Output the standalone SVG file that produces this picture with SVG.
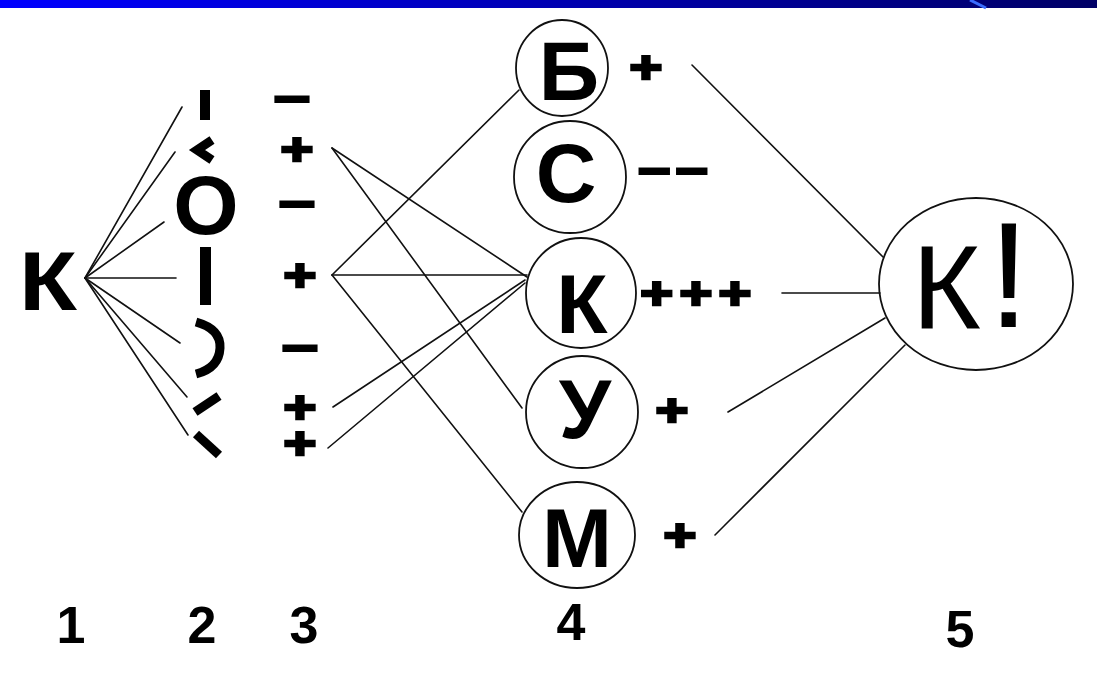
<svg xmlns="http://www.w3.org/2000/svg" width="1097" height="682" viewBox="0 0 1097 682">
<defs>
<linearGradient id="bar" x1="0" y1="0" x2="1" y2="0">
<stop offset="0" stop-color="#0000FF"/>
<stop offset="1" stop-color="#000066"/>
</linearGradient>
<style>
.ln{stroke:#111;stroke-width:1.6;fill:none;stroke-linecap:round}
.ring{stroke:#111;stroke-width:1.8;fill:none}
.b{font-family:"Liberation Sans",Arial,sans-serif;font-weight:bold;fill:#000}
.big{font-size:84px;text-anchor:middle}
.sg{font-size:45px;text-anchor:middle;stroke:#000;stroke-width:2.6}
.num{font-size:52px;text-anchor:middle}
.frag{stroke:#000;stroke-width:9;fill:none}
</style>
</defs>
<rect x="0" y="0" width="1097" height="682" fill="#fff"/>
<rect x="0" y="0" width="1097" height="8" fill="url(#bar)"/>
<line x1="970" y1="0" x2="986" y2="8" stroke="#3a6cff" stroke-width="3"/>

<g id="connectors">
<line class="ln" x1="85" y1="278" x2="182" y2="107"/>
<line class="ln" x1="85" y1="278" x2="175" y2="152"/>
<line class="ln" x1="85" y1="278" x2="164" y2="222"/>
<line class="ln" x1="85" y1="278" x2="176" y2="278"/>
<line class="ln" x1="85" y1="278" x2="180" y2="343"/>
<line class="ln" x1="85" y1="278" x2="187" y2="397"/>
<line class="ln" x1="85" y1="278" x2="188" y2="435"/>
<line class="ln" x1="332" y1="148" x2="527" y2="277"/>
<line class="ln" x1="332" y1="148" x2="522" y2="408"/>
<line class="ln" x1="332" y1="275" x2="519" y2="90"/>
<line class="ln" x1="332" y1="275" x2="527" y2="275"/>
<line class="ln" x1="332" y1="275" x2="522" y2="512"/>
<line class="ln" x1="333" y1="407" x2="525" y2="280"/>
<line class="ln" x1="328" y1="448" x2="525" y2="283"/>
<line class="ln" x1="692" y1="65" x2="883" y2="257"/>
<line class="ln" x1="782" y1="293" x2="880" y2="293"/>
<line class="ln" x1="728" y1="412" x2="885" y2="318"/>
<line class="ln" x1="715" y1="535" x2="905" y2="345"/>
</g>

<g id="node-K">
<text class="b" transform="translate(19,310) scale(1.13,1)" x="0" y="0" font-size="84">К</text>
</g>

<g id="column-2">
<rect x="200" y="90" width="10" height="30" fill="#000"/>
<path class="frag" d="M212,140 L197,150 L212,160" stroke-width="8"/>
<text class="b big" x="206" y="234">O</text>
<rect x="200" y="247" width="11" height="58" fill="#000"/>
<path class="frag" d="M196,322 Q221,329 220,348 Q219,368 196,374"/>
<line class="frag" x1="195" y1="412" x2="219" y2="396" stroke-width="8"/>
<line class="frag" x1="196" y1="434" x2="219" y2="455" stroke-width="8"/>
</g>

<g id="column-3">
<text class="b sg" transform="translate(292,114) scale(1.4,1)">−</text>
<text class="b sg" transform="translate(297,165) scale(1.25,1)">+</text>
<text class="b sg" transform="translate(297,219) scale(1.4,1)">−</text>
<text class="b sg" transform="translate(300,291) scale(1.25,1)">+</text>
<text class="b sg" transform="translate(300,363) scale(1.4,1)">−</text>
<text class="b sg" transform="translate(300,423) scale(1.25,1)">+</text>
<text class="b sg" transform="translate(300,459) scale(1.25,1)">+</text>
</g>

<g id="node-B">
<ellipse class="ring" cx="562" cy="68" rx="46" ry="48"/>
<text class="b big" x="569" y="100">Б</text>
<text class="b sg" transform="translate(646,83) scale(1.25,1)">+</text>
</g>
<g id="node-S">
<circle class="ring" cx="570" cy="177" r="56"/>
<text class="b big" x="566" y="202">С</text>
<text class="b sg" transform="translate(673,186) scale(1.25,1)"><tspan x="-15">−</tspan><tspan x="15">−</tspan></text>
</g>
<g id="node-K2">
<circle class="ring" cx="581" cy="293" r="55"/>
<text class="b big" x="582" y="333">К</text>
<text class="b sg" transform="translate(699,309) scale(1.25,1)" letter-spacing="5">+++</text>
</g>
<g id="node-U">
<circle class="ring" cx="582" cy="412" r="56"/>
<text class="b big" x="585" y="438">У</text>
<text class="b sg" transform="translate(672,426) scale(1.25,1)">+</text>
</g>
<g id="node-M">
<ellipse class="ring" cx="577" cy="535" rx="58" ry="53"/>
<text class="b big" x="577" y="567">М</text>
<text class="b sg" transform="translate(680,551) scale(1.25,1)">+</text>
</g>

<g id="node-K-excl">
<ellipse class="ring" cx="976" cy="284" rx="97" ry="86"/>
<text font-family="Liberation Sans,Arial,sans-serif" fill="#000" x="912" y="328" font-size="118">К</text>
<text font-family="Liberation Sans,Arial,sans-serif" fill="#000" x="988" y="327" font-size="150">!</text>
</g>

<g id="labels">
<text class="b num" x="71" y="643">1</text>
<text class="b num" x="202" y="643">2</text>
<text class="b num" x="304" y="643">3</text>
<text class="b num" x="571" y="640">4</text>
<text class="b num" x="960" y="647">5</text>
</g>
</svg>
